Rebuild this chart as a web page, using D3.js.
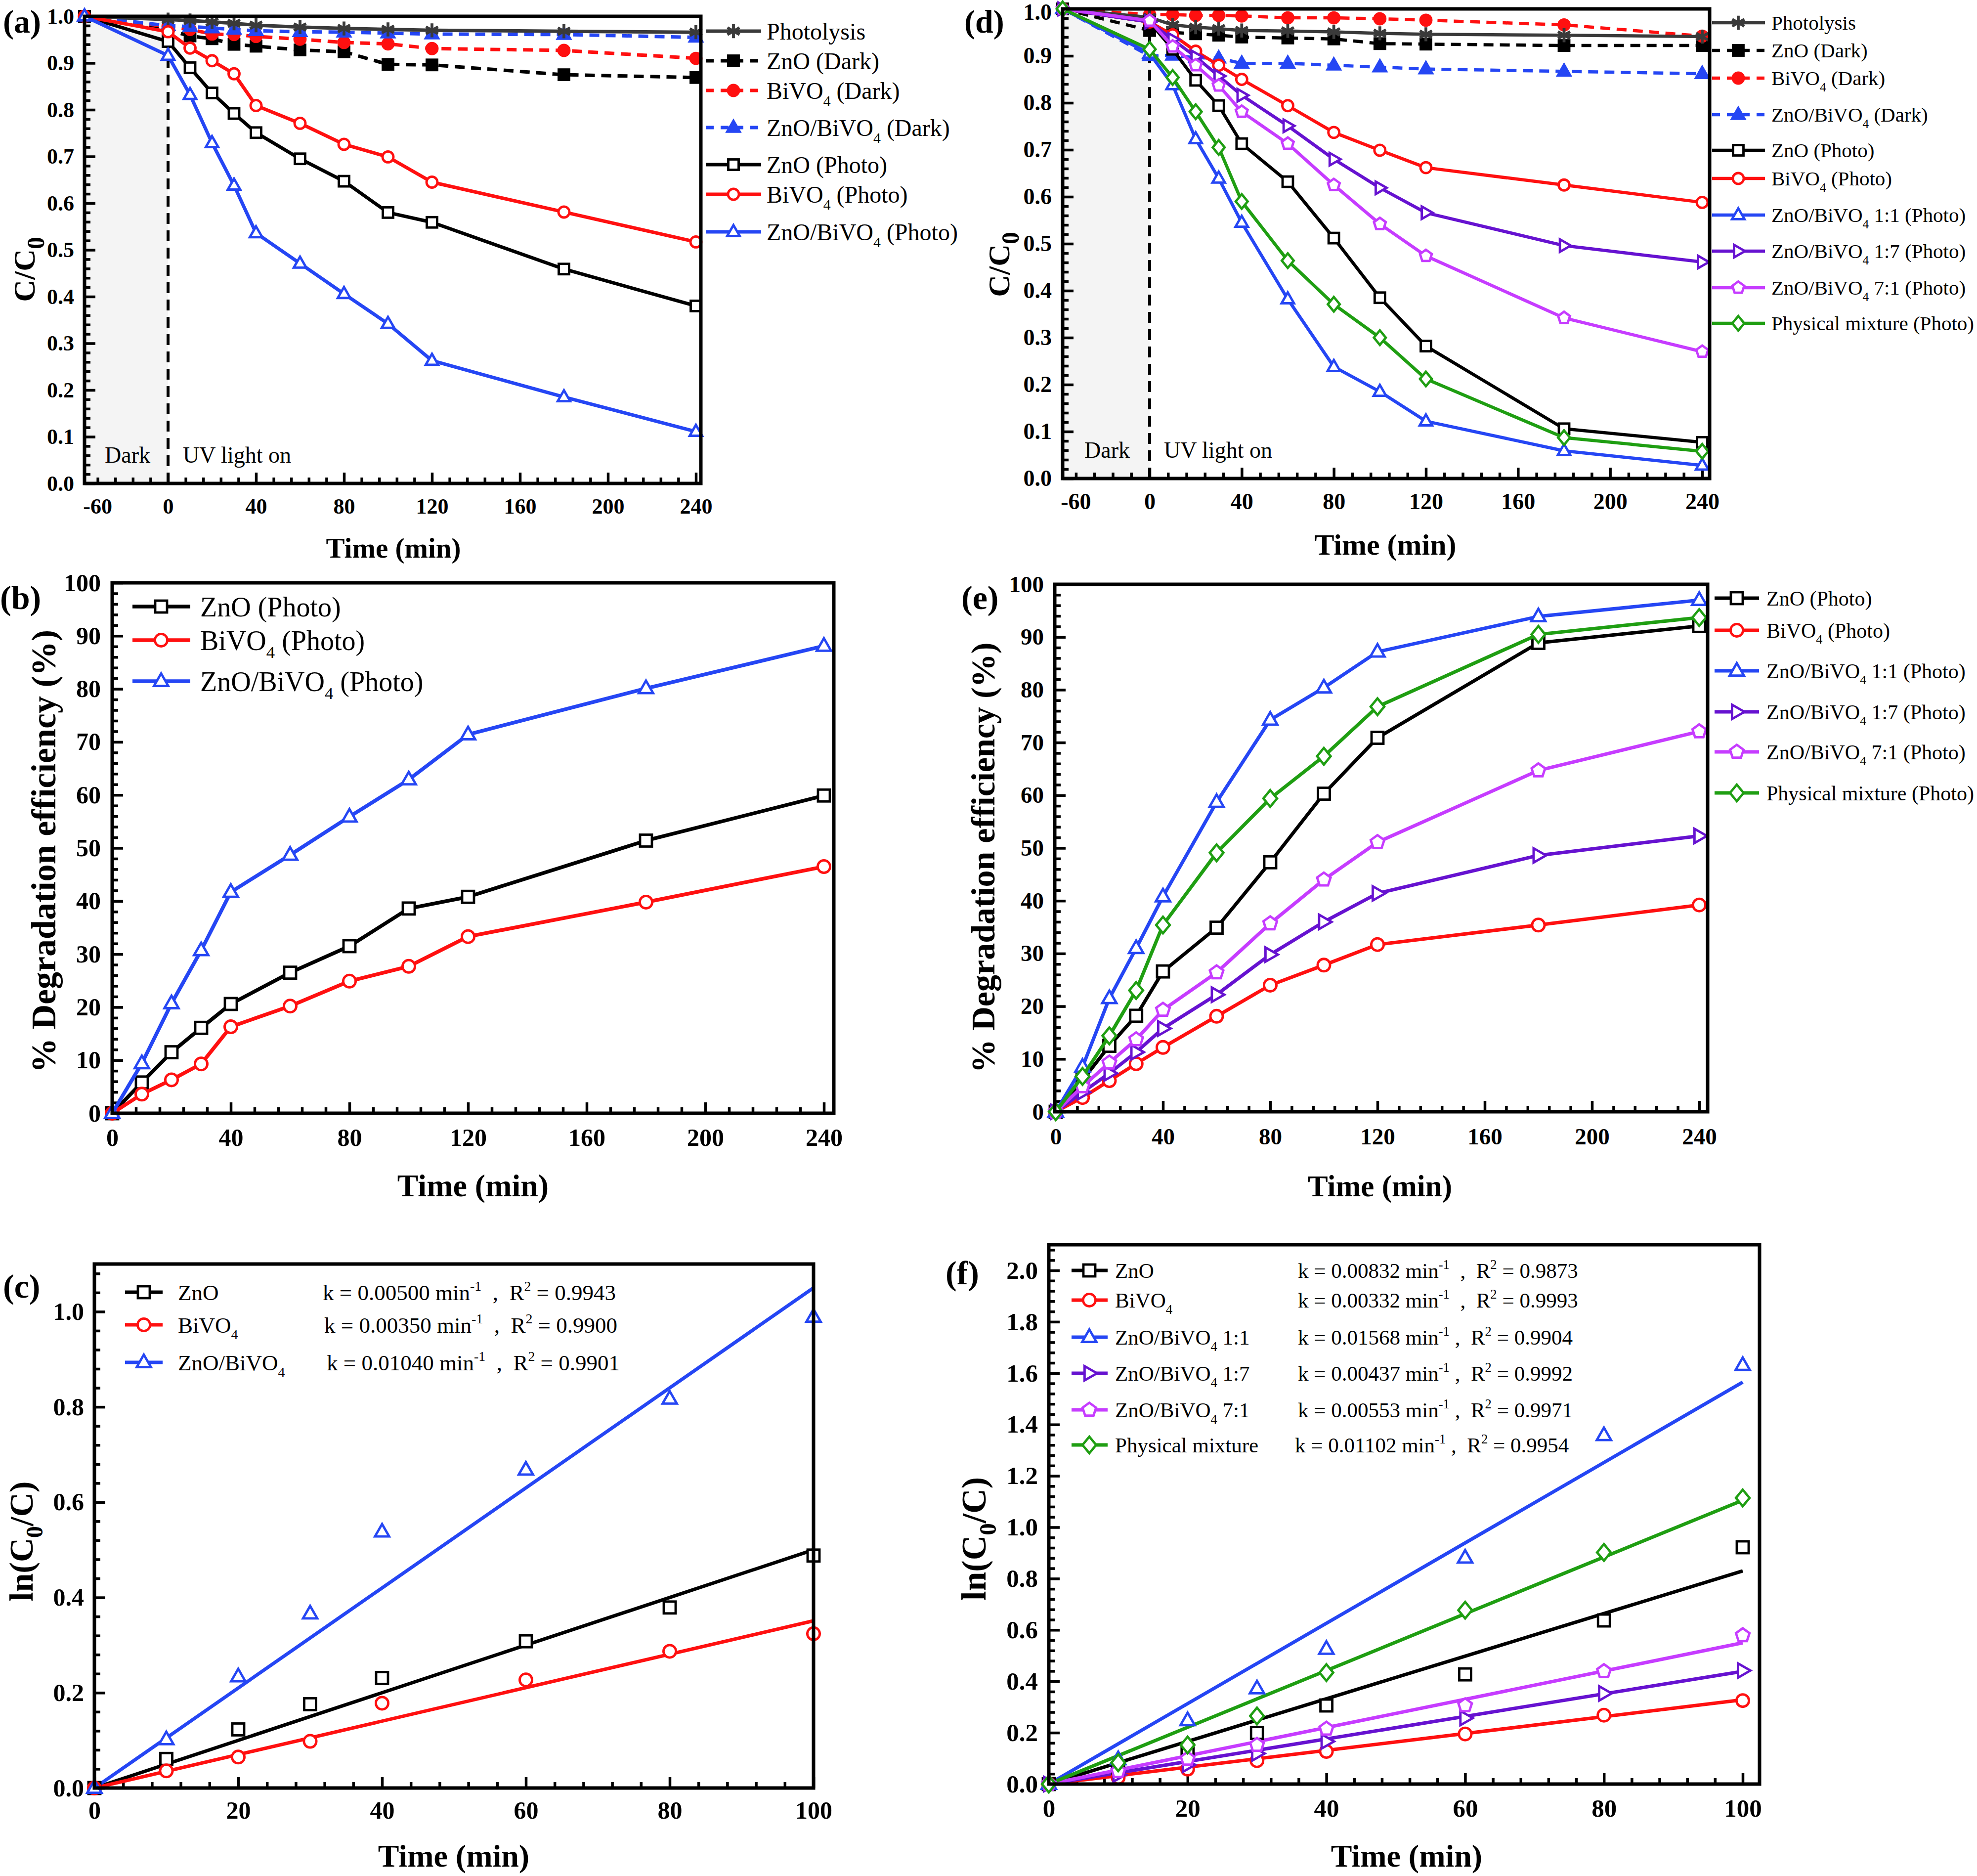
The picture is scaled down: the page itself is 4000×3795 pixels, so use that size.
<!DOCTYPE html>
<html><head><meta charset="utf-8">
<script src="https://cdn.jsdelivr.net/npm/d3@7"></script>
<style>
body{margin:0;background:#fff}
svg text{font-family:"Liberation Serif","Times New Roman",serif;white-space:pre}
</style>
</head><body>
<svg id="chart" width="4000" height="3795"></svg>
<script>
// ---------------- DATA ----------------
const timeAD = [-60, 0, 10, 20, 30, 40, 60, 80, 100, 120, 180, 240];
// panel (a) C/C0
const photolysisA = [1.0, 0.993, 0.991, 0.988, 0.985, 0.981, 0.977, 0.974, 0.972, 0.970, 0.968, 0.966];
const znoDarkA    = [1.0, 0.970, 0.958, 0.952, 0.940, 0.936, 0.928, 0.924, 0.897, 0.896, 0.875, 0.869];
const bivDarkA    = [1.0, 0.978, 0.972, 0.962, 0.961, 0.957, 0.951, 0.944, 0.941, 0.931, 0.927, 0.910];
const compDarkA   = [1.0, 0.980, 0.978, 0.975, 0.972, 0.969, 0.967, 0.966, 0.964, 0.962, 0.961, 0.955];
const znoPhotoA   = [1.0, 0.946, 0.890, 0.836, 0.792, 0.751, 0.695, 0.647, 0.580, 0.559, 0.459, 0.380];
const bivPhotoA   = [1.0, 0.967, 0.932, 0.905, 0.877, 0.809, 0.771, 0.726, 0.699, 0.645, 0.581, 0.517];
const compPhotoA  = [1.0, 0.916, 0.832, 0.729, 0.638, 0.536, 0.471, 0.406, 0.342, 0.263, 0.185, 0.111];
// panel (d) C/C0
const photolysisD = [1.0, 0.982, 0.966, 0.961, 0.958, 0.954, 0.953, 0.951, 0.948, 0.946, 0.944, 0.941];
const znoDarkD    = [1.0, 0.954, 0.950, 0.947, 0.944, 0.940, 0.938, 0.936, 0.926, 0.925, 0.922, 0.922];
const bivDarkD    = [1.0, 0.988, 0.988, 0.986, 0.986, 0.985, 0.981, 0.981, 0.979, 0.976, 0.966, 0.942];
const compDarkD   = [1.0, 0.900, 0.901, 0.896, 0.895, 0.884, 0.884, 0.880, 0.876, 0.872, 0.867, 0.862];
const znoPhotoD   = [1.0, 0.972, 0.914, 0.848, 0.794, 0.713, 0.632, 0.512, 0.385, 0.282, 0.106, 0.077];
const bivPhotoD   = [1.0, 0.972, 0.945, 0.910, 0.880, 0.850, 0.794, 0.737, 0.699, 0.662, 0.625, 0.588];
const comp11D     = [1.0, 0.905, 0.838, 0.723, 0.639, 0.545, 0.382, 0.238, 0.185, 0.122, 0.059, 0.028];
const comp17D     = [1.0, 0.972, 0.935, 0.898, 0.857, 0.816, 0.751, 0.680, 0.619, 0.566, 0.496, 0.461];
const comp71D     = [1.0, 0.975, 0.920, 0.880, 0.837, 0.781, 0.713, 0.625, 0.542, 0.474, 0.342, 0.270];
const physD       = [1.0, 0.914, 0.854, 0.781, 0.705, 0.590, 0.464, 0.371, 0.300, 0.212, 0.087, 0.058];
// panel (b),(e) % degradation
const timeBE = [0, 10, 20, 30, 40, 60, 80, 100, 120, 180, 240];
const znoB  = [0, 5.8, 11.5, 16.1, 20.6, 26.5, 31.5, 38.6, 40.8, 51.4, 59.9];
const bivB  = [0, 3.6, 6.3, 9.3, 16.3, 20.2, 24.9, 27.7, 33.3, 39.8, 46.5];
const compB = [0, 9.4, 20.7, 30.7, 41.7, 48.7, 55.9, 62.9, 71.4, 80.1, 88.1];
const znoE    = [0, 6.0, 12.5, 18.2, 26.6, 34.9, 47.3, 60.3, 70.9, 88.9, 92.1];
const bivE    = [0, 2.7, 5.9, 9.1, 12.2, 18.1, 24.0, 27.8, 31.7, 35.4, 39.2];
const comp11E = [0, 8.5, 21.5, 31.0, 40.8, 58.7, 74.3, 80.4, 87.2, 93.9, 97.0];
const comp17E = [0, 3.7, 7.3, 11.3, 15.8, 22.2, 29.8, 36.0, 41.4, 48.6, 52.3];
const comp71E = [0, 4.8, 9.3, 13.7, 19.3, 26.4, 35.7, 44.0, 51.1, 64.7, 72.1];
const physE   = [0, 6.7, 14.4, 23.0, 35.4, 49.1, 59.4, 67.4, 76.8, 90.5, 93.7];
// panel (c),(f) ln(C0/C)
const timeCF = [0, 10, 20, 30, 40, 60, 80, 100];
const znoC  = [0, 0.061, 0.123, 0.176, 0.231, 0.308, 0.379, 0.488];
const bivC  = [0, 0.036, 0.065, 0.098, 0.178, 0.227, 0.287, 0.324];
const compC = [0, 0.102, 0.234, 0.366, 0.538, 0.668, 0.817, 0.989];
const fitTimeCF = [0, 100];
const fitEndC = [0.500, 0.351, 1.050];
const kC  = ["0.00500", "0.00350", "0.01040"];
const r2C = ["0.9943", "0.9900", "0.9901"];
const znoF    = [0, 0.062, 0.132, 0.199, 0.306, 0.427, 0.637, 0.922];
const bivF    = [0, 0.025, 0.058, 0.091, 0.127, 0.195, 0.268, 0.325];
const comp11F = [0, 0.096, 0.248, 0.372, 0.526, 0.881, 1.358, 1.631];
const comp17F = [0, 0.037, 0.075, 0.119, 0.166, 0.257, 0.353, 0.442];
const comp71F = [0, 0.050, 0.098, 0.152, 0.215, 0.306, 0.439, 0.579];
const physF   = [0, 0.083, 0.152, 0.265, 0.434, 0.677, 0.902, 1.114];
const fitEndF = [0.830, 0.328, 1.565, 0.439, 0.550, 1.105];
const kF  = ["0.00832", "0.00332", "0.01568", "0.00437", "0.00553", "0.01102"];
const r2F = ["0.9873", "0.9993", "0.9904", "0.9992", "0.9971", "0.9954"];
// ticks
const ticksXTime = [0, 40, 80, 120, 160, 200, 240];
const ticksXKin = [0, 20, 40, 60, 80, 100];
const ticksYC = [0, 0.1, 0.2, 0.3, 0.4, 0.5, 0.6, 0.7, 0.8, 0.9, 1.0];
const ticksYPct = [0, 10, 20, 30, 40, 50, 60, 70, 80, 90, 100];
const ticksYLnC = [0, 0.2, 0.4, 0.6, 0.8, 1.0];
const ticksYLnF = [0, 0.2, 0.4, 0.6, 0.8, 1.0, 1.2, 1.4, 1.6, 1.8, 2.0];

// ---------------- STYLE ----------------
const COL = {black:"#000000", red:"#ff1010", blue:"#2546f4", purple:"#6612d0",
             violet:"#c63cff", green:"#1f9e12", gray:"#3a3a3a"};
const DASH = "20,13";
const svg = d3.select("#chart");

function rich(sel, parts, fs) {
  let shift = 0;
  parts.forEach(p => {
    const ts = sel.append("tspan").text(p.t);
    let target = 0;
    if (p.sub) target = fs * 0.3;
    if (p.sup) target = -fs * 0.42;
    const dy = target - shift;
    if (dy !== 0) ts.attr("dy", dy);
    shift = target;
    if (p.sub || p.sup) ts.attr("font-size", fs * (p.size || 0.62));
  });
}

function drawMarker(g, m, cx, cy, r, color, filled, sw) {
  const fill = filled ? color : "#ffffff";
  if (m === "square") {
    return g.append("rect").attr("x", cx - r).attr("y", cy - r).attr("width", 2 * r).attr("height", 2 * r)
      .attr("fill", fill).attr("stroke", color).attr("stroke-width", sw);
  }
  if (m === "circle") {
    return g.append("circle").attr("cx", cx).attr("cy", cy).attr("r", r * 1.05)
      .attr("fill", fill).attr("stroke", color).attr("stroke-width", sw);
  }
  if (m === "star") {
    const p = d3.path();
    [90, 30, 150].forEach(a => {
      const rad = a * Math.PI / 180, R = r * 1.35;
      p.moveTo(cx + R * Math.cos(rad), cy - R * Math.sin(rad));
      p.lineTo(cx - R * Math.cos(rad), cy + R * Math.sin(rad));
    });
    return g.append("path").attr("d", p.toString()).attr("stroke", color).attr("stroke-width", sw + 1).attr("fill", "none");
  }
  let pts;
  if (m === "tri") pts = [[0, -1.3], [1.2, 0.8], [-1.2, 0.8]];
  if (m === "triR") pts = [[1.3, 0], [-0.8, -1.2], [-0.8, 1.2]];
  if (m === "diam") pts = [[0, -1.4], [1.15, 0], [0, 1.4], [-1.15, 0]];
  if (m === "pent") pts = d3.range(5).map(k => {
    const a = (-90 + 72 * k) * Math.PI / 180; return [Math.cos(a) * 1.2, Math.sin(a) * 1.2];
  });
  return g.append("polygon").attr("points", pts.map(q => (cx + q[0] * r) + "," + (cy + q[1] * r)).join(" "))
    .attr("fill", fill).attr("stroke", color).attr("stroke-width", sw).attr("stroke-linejoin", "miter");
}

function panel(cfg) {
  const g = svg.append("g");
  const x = d3.scaleLinear().domain(cfg.xDom).range(cfg.xRng);
  const y = d3.scaleLinear().domain(cfg.yDom).range([cfg.B, cfg.T]);
  const xt = cfg.xTickScale || x;

  if (cfg.dark) {
    g.append("rect").attr("x", cfg.L).attr("y", cfg.T).attr("width", x(0) - cfg.L).attr("height", cfg.B - cfg.T)
      .attr("fill", "#f4f4f4");
  }

  const styleAxis = (ga, fs) => {
    ga.select(".domain").remove();
    ga.selectAll("line").attr("stroke", "#000").attr("stroke-width", 5.5);
    ga.attr("font-size", fs).attr("font-family", null);
    ga.selectAll("text").attr("font-weight", "bold").attr("fill", "#000");
  };
  const fs = cfg.tickFs;
  const xPad = cfg.xLabOff - 0.71 * fs;
  const gx = g.append("g").attr("transform", `translate(0,${cfg.B})`)
    .call(d3.axisBottom(xt).tickValues(cfg.xMajor).tickSize(-22).tickPadding(xPad).tickFormat(d3.format("d")));
  styleAxis(gx, fs);
  const gxm = g.append("g").attr("transform", `translate(0,${cfg.B})`)
    .call(d3.axisBottom(xt).tickValues(cfg.xMinor.filter(v => !cfg.xMajor.some(M => Math.abs(M - v) < 1e-6))).tickSize(-12).tickFormat(""));
  styleAxis(gxm, fs);
  const gy = g.append("g").attr("transform", `translate(${cfg.L},0)`)
    .call(d3.axisLeft(y).tickValues(cfg.yMajor).tickSize(-22).tickPadding(cfg.yPad).tickFormat(cfg.yFmt));
  styleAxis(gy, fs);
  if (cfg.topNudge) {
    const top = cfg.yMajor[cfg.yMajor.length - 1];
    gy.selectAll(".tick text").filter(d => d === top).attr("y", cfg.topNudge);
  }
  const gym = g.append("g").attr("transform", `translate(${cfg.L},0)`)
    .call(d3.axisLeft(y).tickValues(cfg.yMinor.filter(v => !cfg.yMajor.some(M => Math.abs(M - v) < 1e-6))).tickSize(-12).tickFormat(""));
  styleAxis(gym, fs);
  if (cfg.extraXLabel) {
    g.append("text").attr("x", xt(cfg.extraXLabel.at)).attr("y", cfg.B + cfg.xLabOff)
      .attr("text-anchor", "middle").attr("font-size", fs).attr("font-weight", "bold").text(cfg.extraXLabel.text);
  }

  if (cfg.dark) {
    g.append("line").attr("x1", x(0)).attr("x2", x(0)).attr("y1", cfg.B).attr("y2", cfg.T)
      .attr("stroke", "#000").attr("stroke-width", 6).attr("stroke-dasharray", "22,13");
    g.append("text").attr("x", cfg.dark.xDark).attr("y", cfg.dark.base).attr("font-size", cfg.dark.fs).text("Dark");
    g.append("text").attr("x", cfg.dark.xUV).attr("y", cfg.dark.base).attr("font-size", cfg.dark.fs).text("UV light on");
  }

  (cfg.fits || []).forEach(f => {
    g.append("path").attr("d", d3.line().x(d => x(d[0])).y(d => y(d[1]))(f.pts))
      .attr("stroke", f.color).attr("stroke-width", cfg.fitLw).attr("fill", "none");
  });

  cfg.series.forEach(s => {
    const pts = s.t.map((t, i) => [t, s.v[i]]);
    if (s.line !== false) {
      g.append("path").attr("d", d3.line().x(d => x(d[0])).y(d => y(d[1]))(pts))
        .attr("stroke", s.color).attr("stroke-width", cfg.lw).attr("fill", "none")
        .attr("stroke-dasharray", s.dash ? DASH : null).attr("stroke-linejoin", "round");
    }
    pts.forEach(d => drawMarker(g, s.m, x(d[0]), y(d[1]), cfg.mr, s.color, s.filled, cfg.msw));
  });

  const lg = cfg.legend;
  cfg.series.forEach((s, i) => {
    const cy = lg.rows[i];
    g.append("line").attr("x1", lg.x1).attr("x2", lg.x2).attr("y1", cy).attr("y2", cy)
      .attr("stroke", s.color).attr("stroke-width", cfg.lw).attr("stroke-dasharray", s.dash ? "16,14" : null);
    drawMarker(g, s.m, lg.xm, cy, cfg.mr, s.color, s.filled, cfg.msw);
    const t = g.append("text").attr("x", lg.xt).attr("y", cy).attr("dy", lg.fs * 0.35).attr("font-size", lg.fs);
    rich(t, s.label, lg.fs);
    if (s.k) {
      const tk = g.append("text").attr("x", lg.xk[i]).attr("y", cy).attr("dy", lg.fs * 0.35).attr("font-size", lg.fs);
      rich(tk, [{t: "k = " + s.k + " min"}, {t: "-1", sup: 1}, {t: s.sep + "R"}, {t: "2", sup: 1}, {t: " = " + s.r2}], lg.fs);
    }
  });

  g.append("rect").attr("x", cfg.L).attr("y", cfg.T).attr("width", cfg.R - cfg.L).attr("height", cfg.B - cfg.T)
    .attr("fill", "none").attr("stroke", "#000").attr("stroke-width", 7);

  g.append("text").attr("x", cfg.xTitle.cx).attr("y", cfg.xTitle.base).attr("text-anchor", "middle")
    .attr("font-size", cfg.xTitle.fs).attr("font-weight", "bold").text("Time (min)");
  const yt = g.append("text").attr("transform", `translate(${cfg.yTitle.bx},${cfg.yTitle.cy}) rotate(-90)`)
    .attr("text-anchor", "middle").attr("font-size", cfg.yTitle.fs).attr("font-weight", "bold");
  rich(yt, cfg.yTitle.parts, cfg.yTitle.fs);
  g.append("text").attr("x", cfg.label.x).attr("y", cfg.label.base).attr("font-size", cfg.label.fs)
    .attr("font-weight", "bold").text(cfg.label.text);
}

const S = (t, v, color, m, filled, dash, label, extra) => Object.assign({t, v, color, m, filled, dash, label}, extra || {});
const sub4 = (a, b) => [{t: a}, {t: "4", sub: 1}, {t: b}];
const minorRange = (a, b, s) => d3.range(Math.round((b - a) / s) + 1).map(i => +(a + i * s).toFixed(4));

// ---------------- PANEL (a) ----------------
panel({
  L: 171, R: 1418, T: 33, B: 978,
  xDom: [-60, 0, 240], xRng: [171, 340, 1408], yDom: [0, 1],
  xTickScale: d3.scaleLinear().domain([0, 240]).range([340, 1408]),
  xMajor: ticksXTime, xMinor: minorRange(-32, 240, 8), extraXLabel: {at: -32, text: "-60"},
  yMajor: ticksYC, yMinor: minorRange(0, 1, 0.02), yFmt: d3.format(".1f"),
  tickFs: 44, xLabOff: 61, yPad: 21,
  lw: 7, mr: 10.5, msw: 4.8,
  dark: {xDark: 212, xUV: 370, base: 936, fs: 46},
  series: [
    S(timeAD, znoDarkA, COL.black, "square", true, true, [{t: "ZnO (Dark)"}]),
    S(timeAD, bivDarkA, COL.red, "circle", true, true, sub4("BiVO", " (Dark)")),
    S(timeAD, compDarkA, COL.blue, "tri", true, true, sub4("ZnO/BiVO", " (Dark)")),
    S(timeAD, photolysisA, COL.gray, "star", true, false, [{t: "Photolysis"}]),
    S(timeAD, znoPhotoA, COL.black, "square", false, false, [{t: "ZnO (Photo)"}]),
    S(timeAD, bivPhotoA, COL.red, "circle", false, false, sub4("BiVO", " (Photo)")),
    S(timeAD, compPhotoA, COL.blue, "tri", false, false, sub4("ZnO/BiVO", " (Photo)"))
  ],
  legend: {x1: 1428, x2: 1540, xm: 1484, xt: 1551, fs: 48, rows: [123, 183, 258, 63, 333, 393, 469]},
  xTitle: {cx: 796, base: 1128, fs: 57},
  yTitle: {bx: 70, cy: 545, fs: 62, parts: [{t: "C/C"}, {t: "0", sub: 1, size: 0.8}]},
  label: {x: 6, base: 66, fs: 66, text: "(a)"}
});

// ---------------- PANEL (d) ----------------
panel({
  L: 2150, R: 3459, T: 18, B: 968,
  xDom: [-60, 0, 240], xRng: [2150, 2326, 3444], yDom: [0, 1],
  xTickScale: d3.scaleLinear().domain([0, 240]).range([2326, 3444]),
  xMajor: ticksXTime, xMinor: minorRange(-32, 240, 8), extraXLabel: {at: -32, text: "-60"},
  yMajor: ticksYC, yMinor: minorRange(0, 1, 0.02), yFmt: d3.format(".1f"),
  tickFs: 46, xLabOff: 62, yPad: 22, topNudge: 7,
  lw: 6.5, mr: 10.5, msw: 4.8,
  dark: {xDark: 2194, xUV: 2355, base: 926, fs: 46},
  series: [
    S(timeAD, znoDarkD, COL.black, "square", true, true, [{t: "ZnO (Dark)"}]),
    S(timeAD, bivDarkD, COL.red, "circle", true, true, sub4("BiVO", " (Dark)")),
    S(timeAD, compDarkD, COL.blue, "tri", true, true, sub4("ZnO/BiVO", " (Dark)")),
    S(timeAD, photolysisD, COL.gray, "star", true, false, [{t: "Photolysis"}]),
    S(timeAD, znoPhotoD, COL.black, "square", false, false, [{t: "ZnO (Photo)"}]),
    S(timeAD, bivPhotoD, COL.red, "circle", false, false, sub4("BiVO", " (Photo)")),
    S(timeAD, comp11D, COL.blue, "tri", false, false, sub4("ZnO/BiVO", " 1:1 (Photo)")),
    S(timeAD, comp17D, COL.purple, "triR", false, false, sub4("ZnO/BiVO", " 1:7 (Photo)")),
    S(timeAD, comp71D, COL.violet, "pent", false, false, sub4("ZnO/BiVO", " 7:1 (Photo)")),
    S(timeAD, physD, COL.green, "diam", false, false, [{t: "Physical mixture (Photo)"}])
  ],
  legend: {x1: 3464, x2: 3571, xm: 3517, xt: 3584, fs: 41, rows: [102, 158, 232, 46, 304, 361, 435, 508, 582, 654]},
  xTitle: {cx: 2803, base: 1122, fs: 60},
  yTitle: {bx: 2042, cy: 535, fs: 62, parts: [{t: "C/C"}, {t: "0", sub: 1, size: 0.8}]},
  label: {x: 1951, base: 66, fs: 66, text: "(d)"}
});

// ---------------- PANEL (b) ----------------
panel({
  L: 227, R: 1687, T: 1179, B: 2252,
  xDom: [0, 240], xRng: [227, 1667], yDom: [0, 100],
  xMajor: ticksXTime, xMinor: minorRange(0, 240, 8),
  yMajor: ticksYPct, yMinor: minorRange(0, 100, 2), yFmt: d3.format("d"),
  tickFs: 50, xLabOff: 66, yPad: 23,
  lw: 7.5, mr: 12, msw: 4.8,
  series: [
    S(timeBE, znoB, COL.black, "square", false, false, [{t: "ZnO (Photo)"}]),
    S(timeBE, bivB, COL.red, "circle", false, false, sub4("BiVO", " (Photo)")),
    S(timeBE, compB, COL.blue, "tri", false, false, sub4("ZnO/BiVO", " (Photo)"))
  ],
  legend: {x1: 268, x2: 385, xm: 326, xt: 405, fs: 56, rows: [1227, 1295, 1378]},
  xTitle: {cx: 957, base: 2420, fs: 64},
  yTitle: {bx: 112, cy: 1722, fs: 70, parts: [{t: "% Degradation efficiency (%)"}]},
  label: {x: 0, base: 1232, fs: 68, text: "(b)"}
});

// ---------------- PANEL (e) ----------------
panel({
  L: 2134, R: 3455, T: 1182, B: 2249,
  xDom: [0, 240], xRng: [2136, 3438], yDom: [0, 100],
  xMajor: ticksXTime, xMinor: minorRange(0, 240, 8),
  yMajor: ticksYPct, yMinor: minorRange(0, 100, 2), yFmt: d3.format("d"),
  tickFs: 47, xLabOff: 66, yPad: 22,
  lw: 7, mr: 12, msw: 4.8,
  series: [
    S(timeBE, znoE, COL.black, "square", false, false, [{t: "ZnO (Photo)"}]),
    S(timeBE, bivE, COL.red, "circle", false, false, sub4("BiVO", " (Photo)")),
    S(timeBE, comp11E, COL.blue, "tri", false, false, sub4("ZnO/BiVO", " 1:1 (Photo)")),
    S(timeBE, comp17E, COL.purple, "triR", false, false, sub4("ZnO/BiVO", " 1:7 (Photo)")),
    S(timeBE, comp71E, COL.violet, "pent", false, false, sub4("ZnO/BiVO", " 7:1 (Photo)")),
    S(timeBE, physE, COL.green, "diam", false, false, [{t: "Physical mixture (Photo)"}])
  ],
  legend: {x1: 3469, x2: 3559, xm: 3514, xt: 3574, fs: 42, rows: [1210, 1275, 1357, 1440, 1521, 1604]},
  xTitle: {cx: 2792, base: 2420, fs: 61},
  yTitle: {bx: 2012, cy: 1735, fs: 68, parts: [{t: "% Degradation efficiency (%)"}]},
  label: {x: 1945, base: 1232, fs: 68, text: "(e)"}
});

// ---------------- PANEL (c) ----------------
const fitColorsC = [COL.black, COL.red, COL.blue];
panel({
  L: 191, R: 1646, T: 2557, B: 3617,
  xDom: [0, 100], xRng: [191, 1646], yDom: [0, 1.1],
  xMajor: ticksXKin, xMinor: minorRange(0, 100, 4),
  yMajor: ticksYLnC, yMinor: minorRange(0, 1.08, 0.04), yFmt: d3.format(".1f"),
  tickFs: 50, xLabOff: 62, yPad: 21,
  lw: 7, fitLw: 7, mr: 12, msw: 4.8,
  fits: fitEndC.map((e, i) => ({color: fitColorsC[i], pts: [[fitTimeCF[0], 0], [fitTimeCF[1], e]]})),
  series: [
    S(timeCF, znoC, COL.black, "square", false, false, [{t: "ZnO"}], {line: false, k: kC[0], r2: r2C[0], sep: "  ,  "}),
    S(timeCF, bivC, COL.red, "circle", false, false, sub4("BiVO", ""), {line: false, k: kC[1], r2: r2C[1], sep: "  ,  "}),
    S(timeCF, compC, COL.blue, "tri", false, false, sub4("ZnO/BiVO", ""), {line: false, k: kC[2], r2: r2C[2], sep: "  ,  "})
  ],
  legend: {x1: 253, x2: 329, xm: 291, xt: 360, xk: [653, 656, 661], fs: 45, rows: [2614, 2680, 2756]},
  xTitle: {cx: 918, base: 3776, fs: 64},
  yTitle: {bx: 66, cy: 3118, fs: 68, parts: [{t: "ln(C"}, {t: "0", sub: 1, size: 0.7}, {t: "/C)"}]},
  label: {x: 6, base: 2625, fs: 68, text: "(c)"}
});

// ---------------- PANEL (f) ----------------
const fitColorsF = [COL.black, COL.red, COL.blue, COL.purple, COL.violet, COL.green];
panel({
  L: 2122, R: 3560, T: 2518, B: 3609,
  xDom: [0, 100], xRng: [2122, 3526], yDom: [0, 2.1],
  xMajor: ticksXKin, xMinor: minorRange(0, 100, 4),
  yMajor: ticksYLnF, yMinor: minorRange(0, 2.08, 0.04), yFmt: d3.format(".1f"),
  tickFs: 51, xLabOff: 66, yPad: 22,
  lw: 7, fitLw: 7, mr: 12, msw: 4.8,
  fits: fitEndF.map((e, i) => ({color: fitColorsF[i], pts: [[fitTimeCF[0], 0], [fitTimeCF[1], e]]})),
  series: [
    S(timeCF, znoF, COL.black, "square", false, false, [{t: "ZnO"}], {line: false, k: kF[0], r2: r2F[0], sep: "  ,  "}),
    S(timeCF, bivF, COL.red, "circle", false, false, sub4("BiVO", ""), {line: false, k: kF[1], r2: r2F[1], sep: "  ,  "}),
    S(timeCF, comp11F, COL.blue, "tri", false, false, sub4("ZnO/BiVO", " 1:1"), {line: false, k: kF[2], r2: r2F[2], sep: " ,  "}),
    S(timeCF, comp17F, COL.purple, "triR", false, false, sub4("ZnO/BiVO", " 1:7"), {line: false, k: kF[3], r2: r2F[3], sep: " ,  "}),
    S(timeCF, comp71F, COL.violet, "pent", false, false, sub4("ZnO/BiVO", " 7:1"), {line: false, k: kF[4], r2: r2F[4], sep: " ,  "}),
    S(timeCF, physF, COL.green, "diam", false, false, [{t: "Physical mixture"}], {line: false, k: kF[5], r2: r2F[5], sep: " ,  "})
  ],
  legend: {x1: 2168, x2: 2241, xm: 2204, xt: 2256, xk: [2626, 2626, 2626, 2626, 2626, 2620], fs: 43, rows: [2570, 2630, 2705, 2778, 2852, 2923]},
  xTitle: {cx: 2846, base: 3776, fs: 64},
  yTitle: {bx: 1994, cy: 3113, fs: 70, parts: [{t: "ln(C"}, {t: "0", sub: 1, size: 0.7}, {t: "/C)"}]},
  label: {x: 1913, base: 2598, fs: 68, text: "(f)"}
});
</script>
</body></html>
